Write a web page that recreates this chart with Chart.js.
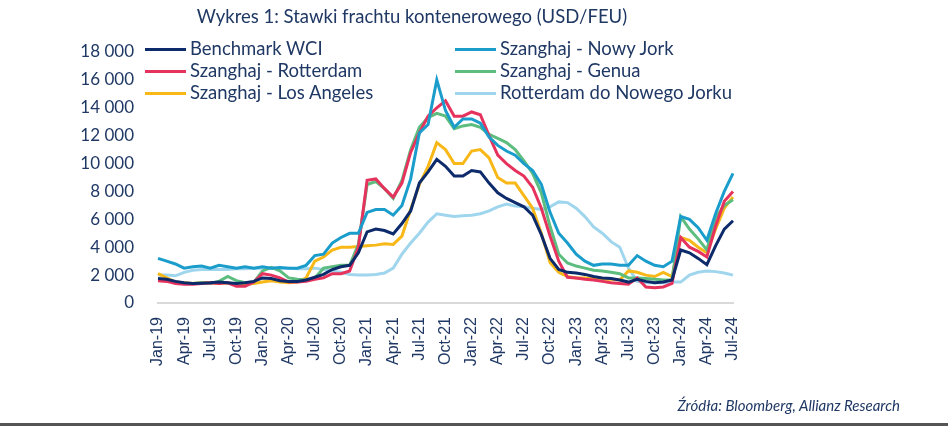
<!DOCTYPE html>
<html>
<head>
<meta charset="utf-8">
<script src="https://cdn.jsdelivr.net/npm/chart.js@4"></script>
<style>
  body { margin: 0; background: #fff; }
  #wrap { position: relative; width: 948px; height: 426px; overflow: hidden; }
  #title { position: absolute; left: 0; width: 824px; top: 5px; text-align: center;
           font: 18.5px Lato, sans-serif; color: #1f3864; }
  .leg { position: absolute; height: 22px; line-height: 22px; font: 18.5px Lato, sans-serif;
         color: #1f3864; white-space: nowrap; }
  .leg span { display: inline-block; width: 41px; height: 3px; vertical-align: middle;
              margin-right: 4px; position: relative; top: -1px; }
  #source { position: absolute; right: 48px; top: 396px; font: italic 15px Lato, sans-serif; color: #1f3864; }
  #rule { position: absolute; left: 0; right: 0; top: 423px; height: 3px; background: #555; }
</style>
</head>
<body>
<div id="wrap">
  <canvas id="chart" width="948" height="426"></canvas>
  <div id="title">Wykres 1: Stawki frachtu kontenerowego (USD/FEU)</div>
  <div id="legend"></div>
  <div id="source">Źródła: Bloomberg, Allianz Research</div>
  <div id="rule"></div>
</div>
<script>
// miesiące Jan-19 .. Jul-24
var months = [
  'Jan-19','Feb-19','Mar-19','Apr-19','May-19','Jun-19','Jul-19','Aug-19','Sep-19','Oct-19','Nov-19','Dec-19',
  'Jan-20','Feb-20','Mar-20','Apr-20','May-20','Jun-20','Jul-20','Aug-20','Sep-20','Oct-20','Nov-20','Dec-20',
  'Jan-21','Feb-21','Mar-21','Apr-21','May-21','Jun-21','Jul-21','Aug-21','Sep-21','Oct-21','Nov-21','Dec-21',
  'Jan-22','Feb-22','Mar-22','Apr-22','May-22','Jun-22','Jul-22','Aug-22','Sep-22','Oct-22','Nov-22','Dec-22',
  'Jan-23','Feb-23','Mar-23','Apr-23','May-23','Jun-23','Jul-23','Aug-23','Sep-23','Oct-23','Nov-23','Dec-23',
  'Jan-24','Feb-24','Mar-24','Apr-24','May-24','Jun-24','Jul-24'
];

var wci = [1750,1700,1550,1450,1400,1420,1450,1500,1450,1400,1450,1550,
  1800,1750,1600,1550,1550,1650,1850,2050,2400,2600,2700,3600,
  5100,5300,5200,4950,5700,6600,8600,9400,10300,9800,9100,9100,
  9500,9400,8600,7900,7500,7200,6900,6300,4900,3200,2400,2200,
  2150,2050,1900,1800,1750,1650,1500,1700,1550,1450,1500,1650,
  3800,3600,3200,2750,4100,5300,5900];

var nowyJork = [3200,3000,2800,2500,2600,2650,2500,2700,2600,2500,2600,2500,
  2600,2500,2550,2500,2500,2700,3400,3500,4300,4700,5000,5000,
  6500,6700,6700,6300,7000,8900,12200,12800,16000,13800,12600,13200,
  13200,12900,11900,11300,10900,10600,10000,9500,8500,6500,5000,4300,
  3500,3000,2700,2800,2800,2700,2700,3400,3000,2700,2600,3000,
  6200,6000,5400,4500,6400,8000,9300];

var rotterdam = [1600,1550,1400,1350,1350,1400,1450,1400,1450,1200,1200,1500,
  2100,2000,1800,1500,1500,1550,1700,1800,2100,2100,2300,4000,
  8800,8900,8200,7600,8600,10800,12200,13400,14000,14500,13400,13400,
  13700,13500,12000,10600,10000,9500,9100,8300,6800,4800,3000,1850,
  1800,1700,1650,1550,1450,1400,1350,1800,1150,1100,1150,1400,
  4700,4000,3700,3300,5500,7300,8000];

var genua = [1700,1650,1500,1400,1400,1450,1400,1550,1900,1600,1450,1500,
  2300,2550,2300,1800,1700,1650,1800,2500,2600,2700,2700,4200,
  8500,8700,8200,7500,8800,11000,12600,13300,13600,13400,12500,12700,
  12800,12600,12100,11800,11500,11000,10200,9300,7900,5500,3500,2870,
  2650,2500,2350,2300,2200,2100,1800,1800,1750,1700,1650,1650,
  6200,5300,4600,3800,6100,7000,7400];

var losAngeles = [2100,1800,1500,1450,1400,1450,1450,1400,1450,1350,1350,1400,
  1500,1600,1500,1450,1500,1800,3000,3300,3800,4000,4000,4050,
  4100,4150,4250,4200,4800,6700,8500,9800,11500,11000,10000,10000,
  10900,11000,10400,9000,8600,8600,7700,6800,5000,2900,2200,1900,
  1800,1800,1750,1700,1700,1650,2300,2200,2000,1900,2200,1900,
  4700,4500,4000,3600,5300,6800,7600];

var rotNY = [2000,2000,1950,2200,2350,2400,2400,2400,2400,2450,2450,2500,
  2500,2500,2500,2500,2450,2450,2500,2400,2300,2200,2050,2000,
  2000,2050,2150,2500,3500,4300,5000,5800,6400,6300,6200,6250,
  6300,6400,6600,6900,7100,6950,6900,6800,6700,6900,7250,7200,
  6800,6200,5450,5000,4400,4000,2500,1550,1450,1450,1450,1500,
  1500,2000,2200,2300,2250,2150,2000];

var yTicks = [0,2000,4000,6000,8000,10000,12000,14000,16000,18000];

var navy = '#1f3864';

function ds(label, data, color) {
  return { label: label, data: data, borderColor: color, backgroundColor: color,
           borderWidth: 3, pointRadius: 0, tension: 0, fill: false };
}

var chart = new Chart(document.getElementById('chart'), {
  type: 'line',
  data: {
    labels: months,
    datasets: [
      ds('Benchmark WCI', wci, '#0d2a6b'),
      ds('Szanghaj - Nowy Jork', nowyJork, '#1b9dcc'),
      ds('Szanghaj - Rotterdam', rotterdam, '#e6335d'),
      ds('Szanghaj - Genua', genua, '#5cbd7e'),
      ds('Szanghaj - Los Angeles', losAngeles, '#f7b818'),
      ds('Rotterdam do Nowego Jorku', rotNY, '#9fd6ee')
    ]
  },
  options: {
    responsive: false,
    animation: false,
    layout: { padding: { left: 0, right: 215, top: 52, bottom: 0 } },
    plugins: { legend: { display: false }, tooltip: { enabled: false } },
    scales: {
      x: {
        grid: { display: false, drawTicks: false },
        border: { display: true, color: '#d9d9d9', width: 2 },
        afterFit: function (s) { s.height = 123; },
        ticks: {
          autoSkip: false, maxRotation: 90, minRotation: 90, padding: 14,
          color: navy, font: { family: 'Liberation Sans', size: 16 },
          callback: function (v, i) { return i % 3 === 0 ? months[i] : ''; }
        }
      },
      y: {
        min: 0, max: 18000,
        grid: { display: false, drawTicks: false },
        border: { display: false },
        afterFit: function (s) { s.width = 158; },
        afterBuildTicks: function (s) { s.ticks = yTicks.map(function (v) { return { value: v }; }); },
        ticks: {
          padding: 24, color: navy, font: { family: 'Lato', size: 17 },
          callback: function (v) { return v === 0 ? '0' : String(v).replace(/\B(?=(\d{3})+(?!\d))/g, ' '); }
        }
      }
    }
  }
});

// legenda w dwóch kolumnach
var leg = document.getElementById('legend');
chart.data.datasets.forEach(function (d, i) {
  var el = document.createElement('div');
  el.className = 'leg';
  el.style.left = (i % 2 === 0 ? 145 : 455) + 'px';
  el.style.top = (37 + Math.floor(i / 2) * 22) + 'px';
  el.innerHTML = '<span style="background:' + d.borderColor + '"></span>' + d.label;
  leg.appendChild(el);
});
</script>
</body>
</html>
